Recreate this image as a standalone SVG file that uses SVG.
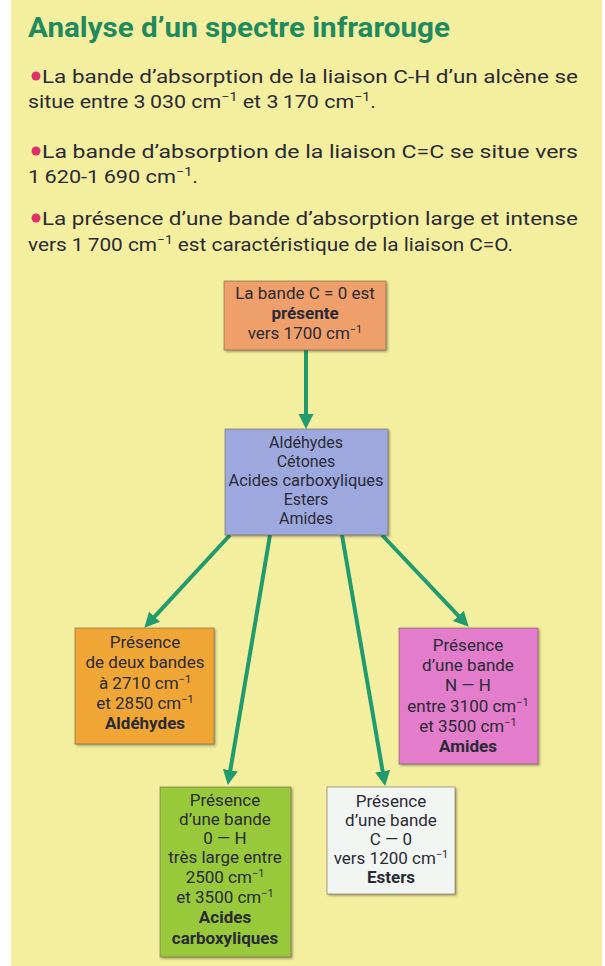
<svg xmlns="http://www.w3.org/2000/svg" width="605" height="966" viewBox="0 0 605 966">
<style>
.t{font-family:Roboto,"Liberation Sans",sans-serif;fill:#2a2a35}
.title{font-family:Roboto,"Liberation Sans",sans-serif;font-weight:bold;font-size:28px;fill:#1e8a5e}
.body{font-size:18px}
.bx{font-size:17px;text-anchor:middle}
.bl{font-size:16px}
.b{font-weight:bold}
.box{stroke:#6b5a4a;stroke-opacity:.55;stroke-width:1;filter:url(#sh)}
.conn{fill:none;stroke:#1f9b6e;stroke-width:4;marker-end:url(#ah)}
</style>
<defs>
<filter id="sh" x="-10%" y="-10%" width="125%" height="125%">
<feDropShadow dx="1.5" dy="1.5" stdDeviation="1" flood-color="#403020" flood-opacity="0.45"/>
</filter>
<marker id="ah" markerUnits="userSpaceOnUse" markerWidth="17" markerHeight="17" refX="8" refY="7.5" orient="auto">
<path d="M0,0 L15,7.5 L0,15 z" fill="#1f9b6e"/>
</marker>
</defs>
<rect x="0" y="0" width="605" height="966" fill="#ffffff"/>
<rect x="11" y="0" width="591" height="966" fill="#f4ef9f"/>

<g id="header">
<text class="title" x="28" y="37" textLength="422" lengthAdjust="spacingAndGlyphs">Analyse d’un spectre infrarouge</text>
<circle cx="36" cy="76" r="4.5" fill="#e0306a"/>
<text class="t body" x="42" y="83" textLength="536" lengthAdjust="spacingAndGlyphs">La bande d’absorption de la liaison C-H d’un alcène se</text>
<text class="t body" x="28" y="108" textLength="348" lengthAdjust="spacingAndGlyphs">situe entre 3&#8201;030 cm<tspan font-size="12" dy="-7">−1</tspan><tspan dy="7"> et 3&#8201;170 cm</tspan><tspan font-size="12" dy="-7">−1</tspan><tspan dy="7">.</tspan></text>
<circle cx="36" cy="151" r="4.5" fill="#e0306a"/>
<text class="t body" x="42" y="158" textLength="536" lengthAdjust="spacingAndGlyphs">La bande d’absorption de la liaison C=C se situe vers</text>
<text class="t body" x="28" y="183" textLength="170" lengthAdjust="spacingAndGlyphs">1&#8201;620-1&#8201;690 cm<tspan font-size="12" dy="-7">−1</tspan><tspan dy="7">.</tspan></text>
<circle cx="36" cy="218" r="4.5" fill="#e0306a"/>
<text class="t body" x="42" y="225" textLength="536" lengthAdjust="spacingAndGlyphs">La présence d’une bande d’absorption large et intense</text>
<text class="t body" x="28" y="251" textLength="485" lengthAdjust="spacingAndGlyphs">vers 1&#8201;700 cm<tspan font-size="12" dy="-7">−1</tspan><tspan dy="7"> est caractéristique de la liaison C=O.</tspan></text>
</g>

<g id="connectors">
<path class="conn" d="M306,350 L306,422"/>
<path class="conn" d="M230,535 L149.1,622.6"/>
<path class="conn" d="M270,535 L229,778.1"/>
<path class="conn" d="M342,535 L384,779.1"/>
<path class="conn" d="M382,535 L463.9,621.6"/>
</g>

<g id="node-c-o">
<rect class="box" x="224" y="281" width="162" height="69" fill="#ef9f6b"/>
<text class="t bx" x="305" y="299">La bande C = 0 est</text>
<text class="t bx b" x="305" y="319">présente</text>
<text class="t bx" x="305" y="339">vers 1700 cm<tspan font-size="11" dy="-6">−1</tspan></text>
</g>

<g id="node-families">
<rect class="box" x="225" y="429" width="163" height="106" fill="#9da9de"/>
<text class="t bx bl" x="306" y="448">Aldéhydes</text>
<text class="t bx bl" x="306" y="467">Cétones</text>
<text class="t bx bl" x="306" y="486" textLength="155" lengthAdjust="spacingAndGlyphs">Acides carboxyliques</text>
<text class="t bx bl" x="306" y="505">Esters</text>
<text class="t bx bl" x="306" y="524">Amides</text>
</g>

<g id="node-aldehydes">
<rect class="box" x="75" y="628" width="139" height="116" fill="#f0a636"/>
<text class="t bx" x="145" y="648">Présence</text>
<text class="t bx" x="145" y="668">de deux bandes</text>
<text class="t bx" x="145" y="689">à 2710 cm<tspan font-size="11" dy="-6">−1</tspan></text>
<text class="t bx" x="145" y="709">et 2850 cm<tspan font-size="11" dy="-6">−1</tspan></text>
<text class="t bx b" x="145" y="729">Aldéhydes</text>
</g>

<g id="node-amides">
<rect class="box" x="399" y="628" width="139" height="136" fill="#e27bcb"/>
<text class="t bx" x="468" y="651">Présence</text>
<text class="t bx" x="468" y="671">d’une bande</text>
<text class="t bx" x="468" y="691">N — H</text>
<text class="t bx" x="468" y="712">entre 3100 cm<tspan font-size="11" dy="-6">−1</tspan></text>
<text class="t bx" x="468" y="732">et 3500 cm<tspan font-size="11" dy="-6">−1</tspan></text>
<text class="t bx b" x="468" y="752">Amides</text>
</g>

<g id="node-acides">
<rect class="box" x="160" y="787" width="131" height="170" fill="#98c93a"/>
<text class="t bx" x="225" y="806">Présence</text>
<text class="t bx" x="225" y="825">d’une bande</text>
<text class="t bx" x="225" y="844">0 — H</text>
<text class="t bx" x="225" y="863">très large entre</text>
<text class="t bx" x="225" y="883">2500 cm<tspan font-size="11" dy="-6">−1</tspan></text>
<text class="t bx" x="225" y="903">et 3500 cm<tspan font-size="11" dy="-6">−1</tspan></text>
<text class="t bx b" x="225" y="923">Acides</text>
<text class="t bx b" x="225" y="944">carboxyliques</text>
</g>

<g id="node-esters">
<rect class="box" x="327" y="787" width="128" height="107" fill="#f2f6f2"/>
<text class="t bx" x="391" y="807">Présence</text>
<text class="t bx" x="391" y="826">d’une bande</text>
<text class="t bx" x="391" y="845">C — 0</text>
<text class="t bx" x="391" y="864">vers 1200 cm<tspan font-size="11" dy="-6">−1</tspan></text>
<text class="t bx b" x="391" y="883">Esters</text>
</g>
</svg>
